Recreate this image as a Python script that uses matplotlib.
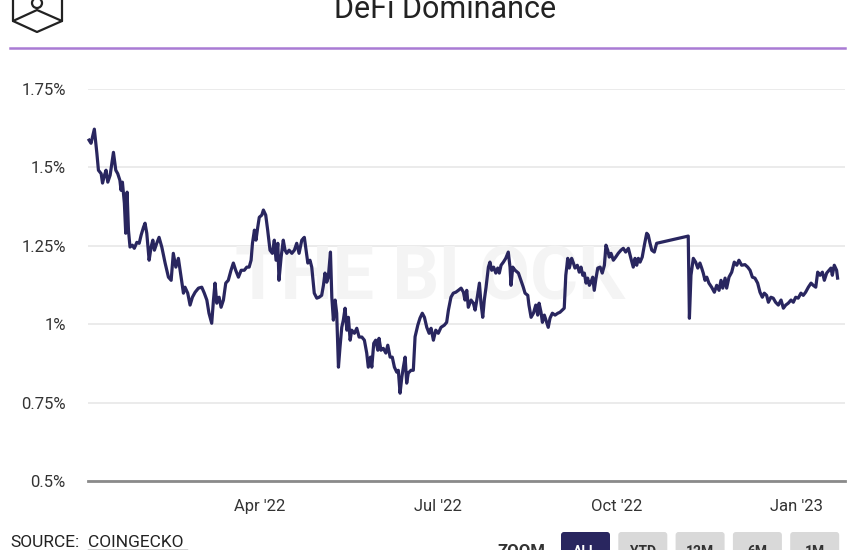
import pandas as pd
import matplotlib
matplotlib.use("Agg")
import matplotlib.pyplot as plt
import matplotlib.dates as mdates
from matplotlib.patches import FancyBboxPatch, Circle

# days since 2022-01-01 and DeFi dominance (%)
day_offset = [
    2.3, 3.3, 5.0, 6.3, 7.1, 8.5, 9.2, 10.2, 11.0, 11.9, 13.1, 14.8, 16.0, 17.0, 18.1, 18.7,
    19.4, 20.4, 21.1, 21.8, 22.5, 23.3, 24.5, 25.5, 26.8, 28.0, 29.0, 30.2, 31.0, 31.9, 33.1,
    34.1, 35.0, 35.8, 37.0, 38.2, 39.6, 41.3, 43.0, 44.4, 45.5, 46.8, 48.1, 49.5, 50.7, 51.5,
    52.9, 54.1, 55.3, 56.7, 58.4, 60.1, 61.4, 62.7, 63.8, 65.2, 66.1, 66.9, 67.8, 69.0, 70.0,
    71.2, 72.4, 73.7, 75.1, 76.3, 77.5, 78.9, 80.3, 81.9, 83.2, 84.4, 85.4, 86.1, 87.1, 87.9,
    88.8, 89.6, 90.9, 91.7, 92.9, 93.9, 95.1, 96.3, 97.3, 98.2, 99.1, 99.7, 100.8, 101.9,
    102.8, 103.7, 104.9, 106.3, 107.6, 108.8, 110.0, 111.4, 112.7, 114.5, 115.6, 116.5, 117.8,
    119.1, 120.3, 121.6, 122.5, 123.3, 124.2, 125.0, 126.1, 126.8, 127.6, 128.5, 129.3, 130.2,
    131.0, 131.9, 132.7, 133.6, 134.5, 135.3, 136.2, 137.0, 138.4, 139.6, 140.8, 142.2, 143.5,
    144.7, 145.5, 146.6, 147.3, 148.3, 149.3, 150.4, 151.0, 152.0, 153.2, 154.5, 155.5, 156.7,
    157.8, 158.9, 160.1, 160.9, 161.8, 162.7, 163.5, 164.4, 165.2, 166.0, 167.4, 168.6, 169.5,
    170.9, 172.0, 173.2, 174.3, 175.5, 176.7, 177.7, 178.9, 180.1, 181.4, 182.8, 184.5, 185.7,
    186.6, 187.9, 189.1, 190.4, 191.7, 193.1, 194.3, 195.1, 196.0, 196.8, 198.2, 199.4, 200.3,
    201.4, 202.5, 203.3, 204.2, 205.0, 205.9, 207.1, 207.9, 208.8, 209.8, 210.9, 211.9, 212.7,
    213.6, 214.8, 216.0, 217.3, 218.2, 218.7, 219.6, 220.8, 222.5, 223.8, 225.0, 225.9, 227.3,
    227.9, 229.0, 230.2, 231.4, 232.4, 233.1, 234.1, 234.8, 235.8, 237.0, 237.8, 238.7, 239.9,
    241.3, 242.7, 243.8, 245.0, 246.0, 246.8, 247.8, 248.6, 249.8, 250.7, 251.5, 252.7, 253.7,
    254.6, 255.5, 256.3, 257.2, 258.0, 258.9, 259.7, 260.6, 261.4, 262.3, 263.2, 264.4, 265.5,
    266.6, 267.4, 268.3, 269.1, 270.0, 271.2, 272.4, 273.7, 275.1, 276.3, 277.5, 278.9, 280.2,
    281.4, 282.3, 283.2, 284.0, 284.9, 286.0, 287.1, 288.3, 289.1, 290.0, 290.9, 292.2, 293.4,
    309.6, 310.2, 311.0, 312.2, 313.4, 314.5, 315.6, 316.5, 317.3, 318.2, 319.1, 320.2, 321.6,
    323.0, 324.2, 325.4, 326.4, 327.3, 328.5, 329.3, 330.5, 331.9, 333.2, 334.5, 335.6, 337.0,
    338.7, 340.1, 341.3, 342.5, 343.8, 345.2, 346.4, 347.6, 348.6, 349.8, 350.7, 352.0, 353.2,
    354.4, 355.8, 357.2, 358.4, 359.6, 360.9, 362.3, 363.5, 364.7, 366.0, 367.4, 368.6, 369.8,
    371.2, 372.6, 373.7, 375.0, 376.0, 377.2, 378.4, 379.4, 380.6, 381.8, 382.8, 383.5, 384.5,
    385.7, 386.2,
]
dominance = [
    1.587, 1.577, 1.622, 1.545, 1.491, 1.480, 1.450, 1.475, 1.491, 1.453, 1.475, 1.548, 1.491,
    1.480, 1.459, 1.427, 1.453, 1.386, 1.290, 1.421, 1.300, 1.246, 1.252, 1.242, 1.261, 1.258,
    1.284, 1.309, 1.322, 1.290, 1.204, 1.246, 1.268, 1.236, 1.258, 1.277, 1.246, 1.195, 1.150,
    1.140, 1.226, 1.182, 1.210, 1.150, 1.099, 1.118, 1.099, 1.061, 1.086, 1.102, 1.115, 1.118,
    1.099, 1.077, 1.035, 1.003, 1.077, 1.131, 1.067, 1.086, 1.054, 1.077, 1.131, 1.140, 1.172,
    1.195, 1.172, 1.150, 1.172, 1.172, 1.182, 1.182, 1.204, 1.258, 1.300, 1.268, 1.309, 1.341,
    1.348, 1.364, 1.348, 1.300, 1.236, 1.226, 1.268, 1.204, 1.258, 1.140, 1.214, 1.268, 1.236,
    1.226, 1.236, 1.226, 1.236, 1.258, 1.226, 1.268, 1.277, 1.195, 1.204, 1.182, 1.099, 1.083,
    1.086, 1.092, 1.124, 1.163, 1.134, 1.150, 1.230, 1.086, 1.013, 1.077, 1.035, 0.863, 0.927,
    0.990, 1.013, 1.051, 0.981, 1.022, 0.949, 0.981, 0.971, 0.987, 0.959, 0.959, 0.949, 0.908,
    0.863, 0.895, 0.863, 0.939, 0.949, 0.917, 0.955, 0.917, 0.923, 0.908, 0.933, 0.895, 0.895,
    0.863, 0.847, 0.853, 0.780, 0.831, 0.863, 0.895, 0.812, 0.844, 0.853, 0.853, 0.960, 0.997,
    1.019, 1.035, 1.022, 0.990, 0.971, 0.987, 0.949, 0.981, 0.971, 0.990, 0.997, 1.006, 1.045,
    1.086, 1.099, 1.102, 1.108, 1.115, 1.102, 1.077, 1.108, 1.054, 1.077, 1.067, 1.045, 1.086,
    1.131, 1.067, 1.022, 1.077, 1.118, 1.182, 1.198, 1.172, 1.182, 1.163, 1.179, 1.163, 1.188,
    1.198, 1.210, 1.230, 1.182, 1.124, 1.182, 1.172, 1.163, 1.140, 1.118, 1.099, 1.092, 1.061,
    1.022, 1.035, 1.061, 1.029, 1.067, 1.038, 1.006, 1.029, 1.006, 0.990, 1.019, 1.035, 1.029,
    1.035, 1.038, 1.045, 1.051, 1.156, 1.210, 1.179, 1.210, 1.195, 1.179, 1.188, 1.166, 1.182,
    1.156, 1.163, 1.131, 1.147, 1.124, 1.134, 1.150, 1.108, 1.147, 1.179, 1.182, 1.163, 1.188,
    1.252, 1.236, 1.214, 1.226, 1.204, 1.214, 1.226, 1.236, 1.242, 1.230, 1.242, 1.210, 1.182,
    1.210, 1.188, 1.210, 1.198, 1.214, 1.252, 1.290, 1.284, 1.258, 1.236, 1.230, 1.258,
    1.281, 1.019, 1.156, 1.210, 1.198, 1.179, 1.195, 1.179, 1.163, 1.140, 1.150, 1.131, 1.118,
    1.102, 1.124, 1.108, 1.140, 1.115, 1.147, 1.115, 1.150, 1.166, 1.198, 1.188, 1.204, 1.188,
    1.190, 1.182, 1.172, 1.150, 1.147, 1.131, 1.102, 1.086, 1.099, 1.092, 1.070, 1.086, 1.083,
    1.070, 1.061, 1.077, 1.051, 1.061, 1.067, 1.077, 1.070, 1.086, 1.083, 1.099, 1.092, 1.102,
    1.118, 1.131, 1.124, 1.118, 1.166, 1.156, 1.166, 1.140, 1.163, 1.172, 1.179, 1.156, 1.188,
    1.172, 1.147,
]
y_ticks = [0.5, 0.75, 1.0, 1.25, 1.5, 1.75]
y_tick_labels = ["0.5%", "0.75%", "1%", "1.25%", "1.5%", "1.75%"]
x_ticks = ["2022-04-01", "2022-07-01", "2022-10-01", "2023-01-01"]
zoom_buttons = ["ALL", "YTD", "12M", "6M", "1M"]

plt.rcParams["font.family"] = ["Roboto", "DejaVu Sans"]

dates = pd.Timestamp("2022-01-01") + pd.to_timedelta(day_offset, unit="D")

W, H = 865, 550
fig = plt.figure(figsize=(W / 100, H / 100), dpi=100)
ax = fig.add_axes([88 / W, 1 - 481 / H, (845 - 88) / W, (481 - 89) / H])

navy = "#29265f"
ax.plot(dates, dominance, color=navy, lw=2.3, zorder=3, clip_on=False,
        solid_joinstyle="round")

ax.set_ylim(0.5, 1.75)
ax.set_xlim(pd.Timestamp("2022-01-02 18:00"), pd.Timestamp("2023-01-26"))
ax.set_yticks(y_ticks)
ax.set_yticklabels(y_tick_labels)
ax.set_xticks(pd.to_datetime(x_ticks))
ax.xaxis.set_major_formatter(mdates.DateFormatter("%b '%y"))
ax.grid(axis="y", color="#e8e8e8", lw=1.2)
ax.tick_params(axis="both", length=0, labelsize=12, colors="#333333")
ax.tick_params(axis="y", pad=16)
ax.tick_params(axis="x", pad=13)
for s in ["top", "right", "left"]:
    ax.spines[s].set_visible(False)
ax.spines["bottom"].set_color("#8a8a8a")
ax.spines["bottom"].set_linewidth(2)
ax.set_axisbelow(True)

# faint watermark
ax.text(0.452, 0.515, "THE BLOCK", transform=ax.transAxes, ha="center", va="center",
        fontsize=53, fontweight="bold", color="#f4f4f4", zorder=1)

# overlay in pixel coordinates for header and footer decorations
ov = fig.add_axes([0, 0, 1, 1], zorder=-1)
ov.set_xlim(0, W)
ov.set_ylim(H, 0)
ov.axis("off")

fig.text(445 / W, 1 - 18 / H, "DeFi Dominance", ha="center", va="baseline",
         fontsize=22, color="#222222")
ov.plot([10, 845], [48, 48], color="#a97bd4", lw=1.8)

# logo
logo_kw = dict(color="#222222", lw=1.6, solid_capstyle="round")
ov.plot([13, 13, 37, 62, 62], [0, 21, 32, 21, 0], **logo_kw)
ov.plot([13, 37, 62], [21, 10, 21], **logo_kw)
ov.add_patch(Circle((37, 3), 5, fill=False, ec="#222222", lw=1.6))

# footer
ov.text(10, 547, "SOURCE:", fontsize=12.5, color="#222222", va="baseline")
ov.text(88, 547, "COINGECKO", fontsize=12.5, color="#222222", va="baseline")
ov.plot([88, 187], [549.5, 549.5], color="#222222", lw=1)

ov.text(497, 556, "ZOOM", fontsize=12, fontweight="bold", color="#333333", va="baseline")
bx = 561
for i, lab in enumerate(zoom_buttons):
    fc = navy if i == 0 else "#d9d9d9"
    tc = "white" if i == 0 else "#333333"
    ov.add_patch(FancyBboxPatch((bx, 532), 49, 30, boxstyle="round,pad=0,rounding_size=3",
                                fc=fc, ec="none"))
    ov.text(bx + 24.5, 556, lab, ha="center", va="baseline", fontsize=10,
            fontweight="bold", color=tc)
    bx += 57.3

fig.savefig("out.png", dpi=100)
